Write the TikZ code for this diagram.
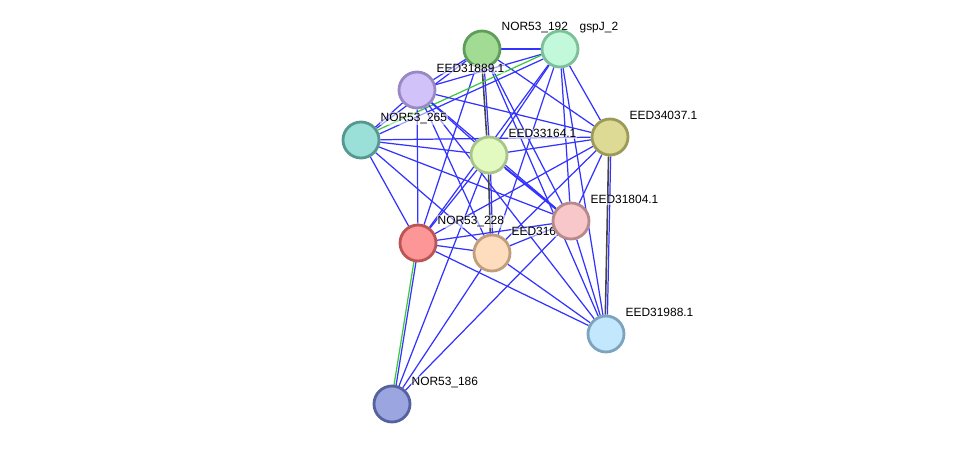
\documentclass[tikz,border=0pt]{standalone}
\usepackage{fontspec}
\setmainfont{Liberation Sans}
\usetikzlibrary{positioning,calc,backgrounds}

\definecolor{linkblue}{RGB}{51,51,255}
\definecolor{linkgreen}{RGB}{60,200,60}
\definecolor{linkgrey}{RGB}{70,70,70}

\tikzset{
    protein/.style = {
        draw,
        shape=circle,
        minimum size=0.72cm,
        inner sep=0pt,
        line width=1.6pt
    },
    lbl/.style = {
        anchor=west,
        xshift=0.09cm,
        yshift=0.15cm,
        inner sep=0.6pt,
        fill=white,
        fill opacity=0.55,
        text opacity=1,
        font=\fontsize{6.8}{8}\selectfont
    },
    link/.style = {
        draw,
        linkblue,
        line width=0.7pt
    },
}

\begin{document}
\begin{tikzpicture}[x=0.02cm, y=-0.02cm]
            \useasboundingbox (0,0) rectangle (975,450);

            \node[protein, fill={rgb,255:red,161;green,219;blue,148}, draw={rgb,255:red,95;green,158;blue,90}, label={[lbl]north east:NOR53\_192}] (nor192) at (482,49) {};
            \node[protein, fill={rgb,255:red,193;green,249;blue,218}, draw={rgb,255:red,124;green,191;blue,153}, label={[lbl]north east:gspJ\_2}] (gspj) at (560,49) {};
            \node[protein, fill={rgb,255:red,209;green,194;blue,250}, draw={rgb,255:red,154;green,136;blue,196}, label={[lbl]north east:EED31889.1}] (eed889) at (417,90) {};
            \node[protein, fill={rgb,255:red,154;green,223;blue,216}, draw={rgb,255:red,86;green,152;blue,143}, label={[lbl]north east:NOR53\_265}] (nor265) at (361,140) {};
            \node[protein, fill={rgb,255:red,226;green,250;blue,192}, draw={rgb,255:red,169;green,196;blue,138}, label={[lbl]north east:EED33164.1}] (eed164) at (489,155) {};
            \node[protein, fill={rgb,255:red,221;green,218;blue,149}, draw={rgb,255:red,156;green,154;blue,87}, label={[lbl]north east:EED34037.1}] (eed037) at (610,137) {};
            \node[protein, fill={rgb,255:red,253;green,150;blue,151}, draw={rgb,255:red,187;green,84;blue,84}, label={[lbl]north east:NOR53\_228}] (nor228) at (418,243) {};
            \node[protein, fill={rgb,255:red,254;green,221;blue,191}, draw={rgb,255:red,193;green,158;blue,123}, label={[lbl]north east:EED316}] (eed316) at (492,253) {};
            \node[protein, fill={rgb,255:red,247;green,199;blue,201}, draw={rgb,255:red,184;green,137;blue,138}, label={[lbl]north east:EED31804.1}] (eed804) at (571,221) {};
            \node[protein, fill={rgb,255:red,195;green,231;blue,253}, draw={rgb,255:red,124;green,164;blue,190}, label={[lbl]north east:EED31988.1}] (eed988) at (606,334) {};
            \node[protein, fill={rgb,255:red,155;green,166;blue,225}, draw={rgb,255:red,86;green,98;blue,157}, label={[lbl]north east:NOR53\_186}] (nor186) at (392,404) {};

            \begin{scope}[on background layer]
            % NOR53_192
            \path[link] (nor192) -- (gspj);
            \path[link] (nor192) -- (eed889);
            \path[link] (nor192) -- (nor265);
            \path[link] (nor192) -- (eed037);
            \path[link] (nor192) -- (eed804);
            \path[link] (nor192) -- (nor228);
            \path[link] (nor192) -- (eed988);
            \path[draw, linkgrey, line width=0.9pt, transform canvas={xshift=-0.6pt}] (nor192) -- (eed164);
            \path[link, transform canvas={xshift=0.6pt}] (nor192) -- (eed164);

            % gspJ_2
            \path[link] (gspj) -- (eed889);
            \path[draw, linkgreen, line width=0.7pt, transform canvas={shift={(-0.5pt,1.1pt)}}] (gspj) -- (nor265);
            \path[link, transform canvas={shift={(0.5pt,-1.1pt)}}] (gspj) -- (nor265);
            \path[link] (gspj) -- (eed164);
            \path[link] (gspj) -- (eed037);
            \path[link] (gspj) -- (eed804);
            \path[link] (gspj) -- (nor228);
            \path[link] (gspj) -- (eed316);
            \path[link] (gspj) -- (eed988);

            % EED31889.1
            \path[link] (eed889) -- (nor265);
            \path[link] (eed889) -- (eed164);
            \path[link] (eed889) -- (eed037);
            \path[link] (eed889) -- (eed804);
            \path[link] (eed889) -- (nor228);
            \path[link] (eed889) -- (eed316);
            \path[link] (eed889) -- (eed988);

            % NOR53_265
            \path[link] (nor265) -- (eed164);
            \path[link] (nor265) -- (eed037);
            \path[link] (nor265) -- (eed804);
            \path[link] (nor265) -- (nor228);
            \path[link] (nor265) -- (eed316);

            % EED33164.1
            \path[link] (eed164) -- (eed037);
            \path[link, transform canvas={shift={(0.4pt,-0.6pt)}}] (eed164) -- (eed804);
            \path[link, transform canvas={shift={(-0.4pt,0.6pt)}}] (eed164) -- (eed804);
            \path[link] (eed164) -- (nor228);
            \path[draw, linkgrey, line width=0.9pt, transform canvas={xshift=-0.6pt}] (eed164) -- (eed316);
            \path[link, transform canvas={xshift=0.6pt}] (eed164) -- (eed316);
            \path[link] (eed164) -- (nor186);

            % EED34037.1
            \path[link] (eed037) -- (eed804);
            \path[link] (eed037) -- (nor228);
            \path[link] (eed037) -- (eed316);
            \path[draw, linkgrey, line width=0.9pt, transform canvas={xshift=-0.6pt}] (eed037) -- (eed988);
            \path[link, transform canvas={xshift=0.6pt}] (eed037) -- (eed988);

            % EED31804.1
            \path[link] (eed804) -- (nor228);
            \path[link] (eed804) -- (eed316);
            \path[link] (eed804) -- (eed988);
            \path[link] (eed804) -- (nor186);

            % NOR53_228, EED316
            \path[link] (nor228) -- (eed316);
            \path[link] (nor228) -- (eed988);
            \path[draw, linkgreen, line width=0.7pt, transform canvas={xshift=-0.6pt}] (nor228) -- (nor186);
            \path[link, transform canvas={xshift=0.6pt}] (nor228) -- (nor186);
            \path[link] (eed316) -- (eed988);
            \path[link] (eed316) -- (nor186);
            \end{scope}

        \end{tikzpicture}
\end{document}
